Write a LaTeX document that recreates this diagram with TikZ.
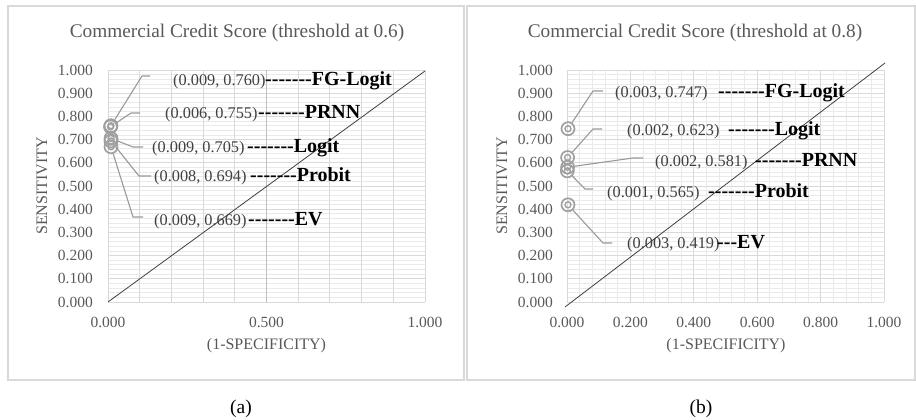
\documentclass[tikz,border=0pt]{standalone}
\usepackage{fontspec}
\setmainfont{Liberation Serif}
\definecolor{txtgray}{HTML}{595959}
\definecolor{lblgray}{HTML}{404040}
\definecolor{leadgray}{HTML}{9A9A9A}
\definecolor{markgray}{HTML}{A0A0A0}
\definecolor{gridmaj}{HTML}{D9D9D9}
\definecolor{gridmin}{HTML}{EAEAEA}
\definecolor{gridmid}{HTML}{BFBFBF}
\definecolor{framegray}{HTML}{D9D9D9}
\newcommand\mydash{\mbox{-}}
\newcommand\sevendash{\mydash\mydash\mydash\mydash\mydash\mydash\mydash}
\begin{document}
\begin{tikzpicture}[x=1pt,y=-1pt,
  panelframe/.style={draw=framegray,line width=1.3pt},
  titletxt/.style={text=txtgray,font=\fontsize{19.3}{22}\selectfont,inner sep=0pt},
  ticktxt/.style={text=txtgray,font=\fontsize{15.5}{18}\selectfont,inner sep=0pt},
  axtxt/.style={text=txtgray,font=\fontsize{16}{18}\selectfont,inner sep=0pt},
  dlab/.style={text=lblgray,font=\fontsize{16.3}{18}\selectfont,inner sep=0pt,anchor=base west},
  blab/.style={text=black,font=\fontsize{20}{22}\bfseries\selectfont,inner sep=0pt,anchor=base west},
  capt/.style={text=black,font=\fontsize{19.5}{22}\selectfont,inner sep=0pt},
  majline/.style={draw=gridmaj,line width=0.9pt},
  minline/.style={draw=gridmin,line width=0.8pt},
  diagline/.style={draw=black!75,line width=0.8pt},
  leader/.style={draw=leadgray,line width=1.1pt},
  bullseye/.style={circle,draw=markgray,line width=1.7pt,minimum size=13pt,inner sep=0pt,
    path picture={\draw[markgray,line width=1.4pt] (path picture bounding box.center) circle (3pt);}}]
\useasboundingbox (0,0) rectangle (916,420);
\fill[white] (0,0) rectangle (916,420);

% ---------- frames ----------
\draw[panelframe] (8,6) rectangle (464,380);
\draw[panelframe] (467,6) rectangle (915,380);

% ---------- left grid ----------
\foreach \i in {1,...,49} \draw[minline] (108,302-\i*4.64) -- (425,302-\i*4.64);
\foreach \i in {0,...,10} \draw[majline] (108,302-\i*23.2) -- (425,302-\i*23.2);
\foreach \i in {0,...,10} \draw[majline] (108+\i*31.7,70) -- (108+\i*31.7,302);
\draw[draw=gridmid,line width=0.9pt] (266.5,70) -- (266.5,302);

% ---------- right grid ----------
\foreach \i in {1,...,49} \draw[minline] (567,302-\i*4.64) -- (884,302-\i*4.64);
\foreach \i in {1,...,24} \draw[minline] (567+\i*12.68,70) -- (567+\i*12.68,302);
\foreach \i in {0,...,10} \draw[majline] (567,302-\i*23.2) -- (884,302-\i*23.2);
\foreach \i in {0,...,5} \draw[majline] (567+\i*63.4,70) -- (567+\i*63.4,302);

% ---------- diagonals ----------
\coordinate (dLa) at (108,302);
\coordinate (dLb) at (425,71);
\coordinate (dRa) at (565,307);
\coordinate (dRb) at (885,63);
\draw[diagline] (dLa) -- (dLb);
\draw[diagline] (dRa) -- (dRb);

% ---------- titles ----------
\node[titletxt] (titL) at (237,33) {Commercial Credit Score (threshold at 0.6)};
\node[titletxt] (titR) at (695,33) {Commercial Credit Score (threshold at 0.8)};

% ---------- tick labels ----------
\foreach \v [count=\i from 0] in {0.000,0.100,0.200,0.300,0.400,0.500,0.600,0.700,0.800,0.900,1.000}{
  \node[ticktxt,anchor=east] (yL\i) at (93,302-\i*23.2) {\v};
  \node[ticktxt,anchor=east] (yR\i) at (553,302-\i*23.2) {\v};
}
\node[ticktxt] (xL0) at (108,322) {0.000};
\node[ticktxt] (xL1) at (266.5,322) {0.500};
\node[ticktxt] (xL2) at (425,322) {1.000};
\foreach \v [count=\i from 0] in {0.000,0.200,0.400,0.600,0.800,1.000}
  \node[ticktxt] (xR\i) at (567+\i*63.4,322) {\v};

% ---------- axis titles ----------
\node[axtxt] (axL) at (266.5,346) {(1-SPECIFICITY)};
\node[axtxt] (axR) at (726,346) {(1-SPECIFICITY)};
\node[axtxt,rotate=90] (ayL) at (42,186) {SENSITIVITY};
\node[axtxt,rotate=90] (ayR) at (502,186) {SENSITIVITY};

% ---------- captions ----------
\node[capt] (capA) at (241,409) {(a)};
\node[capt] (capB) at (701,409) {(b)};

% ---------- left markers ----------
\node[bullseye] (mL1) at (111,125.7) {};
\node[bullseye] (mL2) at (110.5,126.8) {};
\node[bullseye] (mL3) at (111,138.4) {};
\node[bullseye] (mL4) at (111,141) {};
\node[bullseye] (mL5) at (111,146.8) {};

% left leaders
\coordinate (bL1) at (142,76);  \coordinate (eL1) at (150,76);
\coordinate (bL2) at (131,113); \coordinate (eL2) at (140,113);
\coordinate (bL3) at (133,147); \coordinate (eL3) at (143,147);
\coordinate (bL4) at (139,176); \coordinate (eL4) at (151,176);
\coordinate (bL5) at (133,217); \coordinate (eL5) at (143,217);
\draw[leader] (mL1) -- (bL1) -- (eL1);
\draw[leader] (mL2) -- (bL2) -- (eL2);
\draw[leader] (mL3) -- (bL3) -- (eL3);
\draw[leader] (mL4) -- (bL4) -- (eL4);
\draw[leader] (mL5) -- (bL5) -- (eL5);

% left labels
\node[dlab] (tL1) at (173,85) {(0.009, 0.760)};
\node[blab] (kL1) at (265,85) {\sevendash FG-Logit};
\node[dlab] (tL2) at (165,118) {(0.006, 0.755)};
\node[blab] (kL2) at (258,118) {\sevendash PRNN};
\node[dlab] (tL3) at (152,152) {(0.009, 0.705)};
\node[blab] (kL3) at (247,152) {\sevendash Logit};
\node[dlab] (tL4) at (154,181) {(0.008, 0.694)};
\node[blab] (kL4) at (250,181) {\sevendash Probit};
\node[dlab] (tL5) at (154,225) {(0.009, 0.669)};
\node[blab] (kL5) at (248,225) {\sevendash EV};

% ---------- right markers ----------
\node[bullseye] (mR1) at (568,128.7) {};
\node[bullseye] (mR2) at (567.6,157.5) {};
\node[bullseye] (mR3) at (567.6,167.2) {};
\node[bullseye] (mR4) at (567.3,170.9) {};
\node[bullseye] (mR5) at (568,204.8) {};

% right leaders
\coordinate (bR1) at (593,91);  \coordinate (eR1) at (603,91);
\coordinate (bR2) at (593,129); \coordinate (eR2) at (602,129);
\coordinate (bR3) at (633,158); \coordinate (eR3) at (643,158);
\coordinate (bR4) at (585,189); \coordinate (eR4) at (593,189);
\coordinate (bR5) at (603,243); \coordinate (eR5) at (612,243);
\draw[leader] (mR1) -- (bR1) -- (eR1);
\draw[leader] (mR2) -- (bR2) -- (eR2);
\draw[leader] (mR3) -- (bR3) -- (eR3);
\draw[leader] (mR4) -- (bR4) -- (eR4);
\draw[leader] (mR5) -- (bR5) -- (eR5);

% right labels
\node[dlab] (tR1) at (615,97) {(0.003, 0.747)};
\node[blab] (kR1) at (718,97) {\sevendash FG-Logit};
\node[dlab] (tR2) at (627,135) {(0.002, 0.623)};
\node[blab] (kR2) at (728,135) {\sevendash Logit};
\node[dlab] (tR3) at (655,166) {(0.002, 0.581)};
\node[blab] (kR3) at (755,166) {\sevendash PRNN};
\node[dlab] (tR4) at (607,197) {(0.001, 0.565)};
\node[blab] (kR4) at (708,197) {\sevendash Probit};
\node[dlab] (tR5) at (627,248) {(0.003, 0.419)};
\node[blab] (kR5) at (717,248) {\mydash\mydash\mydash EV};
\end{tikzpicture}
\end{document}
